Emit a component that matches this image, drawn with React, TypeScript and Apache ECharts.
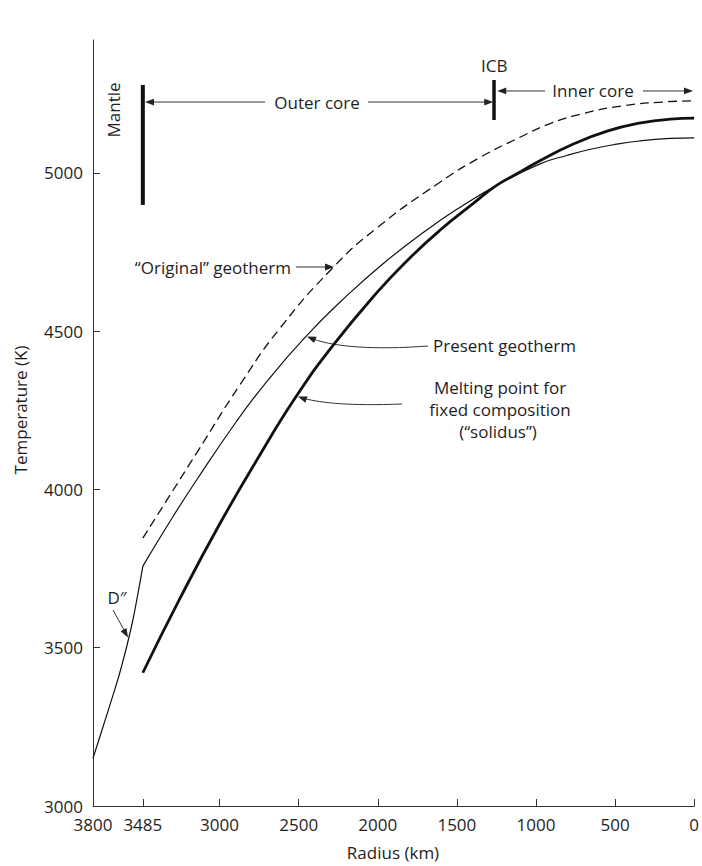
import React, { useEffect, useRef } from "react";
import * as echarts from "echarts";

// ---- data (radius km, temperature K) ----
const radiusTicks = [3800, 3485, 3000, 2500, 2000, 1500, 1000, 500, 0];
const tempTicks = [3000, 3500, 4000, 4500, 5000];

const presentDpp = [
  [3800, 3151], [3740, 3245], [3680, 3340], [3620, 3440], [3560, 3560], [3520, 3660], [3485, 3758],
];
const presentCore = [
  [3485, 3758], [3300, 3910], [3145, 4030], [2900, 4210], [2703, 4340], [2451, 4485],
  [2200, 4610], [1950, 4720], [1704, 4815], [1500, 4885], [1251, 4960], [978, 5028],
  [800, 5056], [662, 5074], [500, 5090], [347, 5101], [150, 5109], [0, 5111],
];
const solidus = [
  [3485, 3421], [3251, 3655], [3000, 3890], [2750, 4105], [2514, 4295], [2283, 4455],
  [2000, 4625], [1800, 4730], [1609, 4818], [1400, 4902], [1251, 4960], [1100, 5003],
  [978, 5038], [770, 5090], [550, 5132], [347, 5157], [150, 5170], [0, 5173],
];
const original = [
  [3485, 3846], [3145, 4115], [2872, 4330], [2619, 4509], [2285, 4700], [2009, 4825],
  [1609, 4970], [1350, 5050], [1104, 5112], [915, 5155], [700, 5188], [450, 5212],
  [200, 5224], [0, 5228],
];
const mantleBar = [[3485, 4899], [3485, 5278]];
const icbBar = [[1265, 5167], [1265, 5294]];

const W = 702, H = 866;
const G = { left: 93, right: 6, top: 40, bottom: 60 };
const X_MIN = 0, X_MAX = 3800, Y_MIN = 3000, Y_MAX = 5420;
const FONT = "'Open Sans', 'Noto Sans', sans-serif";
const TXT = "#1e1e1e";
const FS = 17;

const gw = W - G.left - G.right;
const gh = H - G.top - G.bottom;
const px = (r: number) => G.left + ((X_MAX - r) / (X_MAX - X_MIN)) * gw;
const py = (t: number) => G.top + ((Y_MAX - t) / (Y_MAX - Y_MIN)) * gh;

function head(tx: number, ty: number, ang: number, len = 9, half = 3.4) {
  const dx = Math.cos(ang), dy = Math.sin(ang);
  const bx = tx - dx * len, by = ty - dy * len;
  return {
    type: "polygon",
    shape: { points: [[tx, ty], [bx - dy * half, by + dx * half], [bx + dy * half, by - dx * half]] },
    style: { fill: "#222" },
    silent: true,
  };
}
function seg(x1: number, y1: number, x2: number, y2: number) {
  return { type: "line", shape: { x1, y1, x2, y2 }, style: { stroke: "#333", lineWidth: 1 }, silent: true };
}
function txt(text: string, x: number, y: number, align = "center", rot = 0) {
  return {
    type: "text", x, y, rotation: rot, silent: true,
    style: { text, fill: TXT, font: `${FS}px ${FONT}`, align, verticalAlign: "middle" },
  };
}

export default function App() {
  const ref = useRef<HTMLDivElement>(null);
  useEffect(() => {
    if (!ref.current) return;
    const chart = echarts.init(ref.current, null, { renderer: "svg" });
    const mx = px(3485) + 2;
    const ix = px(1265);
    const outerY = py(5224), innerY = py(5259);
    const graphic: any[] = [
      txt("Temperature (K)", 20, 410, "center", Math.PI / 2),
      txt("Radius (km)", 393, 852),
      txt("Mantle", 113, 110, "center", Math.PI / 2),
      txt("Outer core", 317, outerY),
      seg(mx + 4, outerY, 265, outerY), head(mx, outerY, Math.PI),
      seg(368, outerY, ix - 8, outerY), head(ix - 2, outerY, 0),
      txt("ICB", ix - 1, 65),
      txt("Inner core", 593, innerY),
      seg(ix + 6, innerY, 545, innerY), head(ix + 2, innerY, Math.PI),
      seg(643, innerY, px(0) - 8, innerY), head(px(0) - 3, innerY, 0),
      txt("\u201cOriginal\u201d geotherm", 291, 267, "right"),
      seg(296, 267, 327, 267), head(334, 267, 0),
      txt("Present geotherm", 433, 345, "left"),
      {
        type: "bezierCurve", silent: true,
        shape: { x1: 428, y1: 346, cpx1: 375, cpy1: 350, cpx2: 335, cpy2: 347, x2: 313, y2: 339 },
        style: { stroke: "#333", lineWidth: 1, fill: "none" },
      },
      head(307, 336.5, Math.atan2(-2.5, -6)),
      txt("Melting point for", 500, 387),
      txt("fixed composition", 500, 409),
      txt("(\u201csolidus\u201d)", 498, 431),
      {
        type: "bezierCurve", silent: true,
        shape: { x1: 402, y1: 404, cpx1: 350, cpy1: 406, cpx2: 322, cpy2: 403, x2: 304, y2: 398.5 },
        style: { stroke: "#333", lineWidth: 1, fill: "none" },
      },
      head(298, 396.5, Math.atan2(-2.2, -6)),
      txt("D\u2033", 117, 597),
      seg(113, 610, 124, 630), head(128, 637.5, Math.atan2(7, 4)),
    ];

    const lineBase = { type: "line", showSymbol: false, symbol: "none", silent: true, z: 3 };
    const fmt = (v: number) => String(v);
    chart.setOption({
      animation: false,
      backgroundColor: "#fff",
      grid: { left: G.left, right: G.right, top: G.top, bottom: G.bottom, containLabel: false },
      xAxis: {
        type: "value", min: X_MIN, max: X_MAX, inverse: true,
        axisLine: { show: true, onZero: false, lineStyle: { color: "#333", width: 1 } },
        axisTick: { show: true, inside: true, length: 7, customValues: radiusTicks, lineStyle: { color: "#333" } },
        axisLabel: { customValues: radiusTicks, formatter: fmt, color: TXT, fontSize: FS, fontFamily: FONT, margin: 10 },
        splitLine: { show: false },
      },
      yAxis: {
        type: "value", min: Y_MIN, max: Y_MAX,
        axisLine: { show: true, onZero: false, lineStyle: { color: "#333", width: 1 } },
        axisTick: { show: true, inside: true, length: 7, customValues: tempTicks, lineStyle: { color: "#333" } },
        axisLabel: { customValues: tempTicks, formatter: fmt, color: TXT, fontSize: FS, fontFamily: FONT, margin: 10 },
        splitLine: { show: false },
      },
      series: [
        { ...lineBase, name: "Present D''", data: presentDpp, smooth: 0.5, lineStyle: { color: "#111", width: 1.2 } },
        { ...lineBase, name: "Present geotherm", data: presentCore, smooth: 0.5, lineStyle: { color: "#111", width: 1.2 } },
        { ...lineBase, name: "Solidus", data: solidus, smooth: 0.5, lineStyle: { color: "#111", width: 2.8 } },
        { ...lineBase, name: "Original geotherm", data: original, smooth: 0.5, lineStyle: { color: "#111", width: 1.3, type: [9, 5] } },
        { ...lineBase, name: "Mantle", data: mantleBar, lineStyle: { color: "#111", width: 4, cap: "butt" } },
        { ...lineBase, name: "ICB", data: icbBar, lineStyle: { color: "#111", width: 3.5, cap: "butt" } },
      ],
      graphic,
    });
    return () => chart.dispose();
  }, []);
  return (
    <div
      ref={ref}
      style={{ position: "fixed", left: 0, top: 0, width: W, height: H, background: "#fff" }}
    />
  );
}
